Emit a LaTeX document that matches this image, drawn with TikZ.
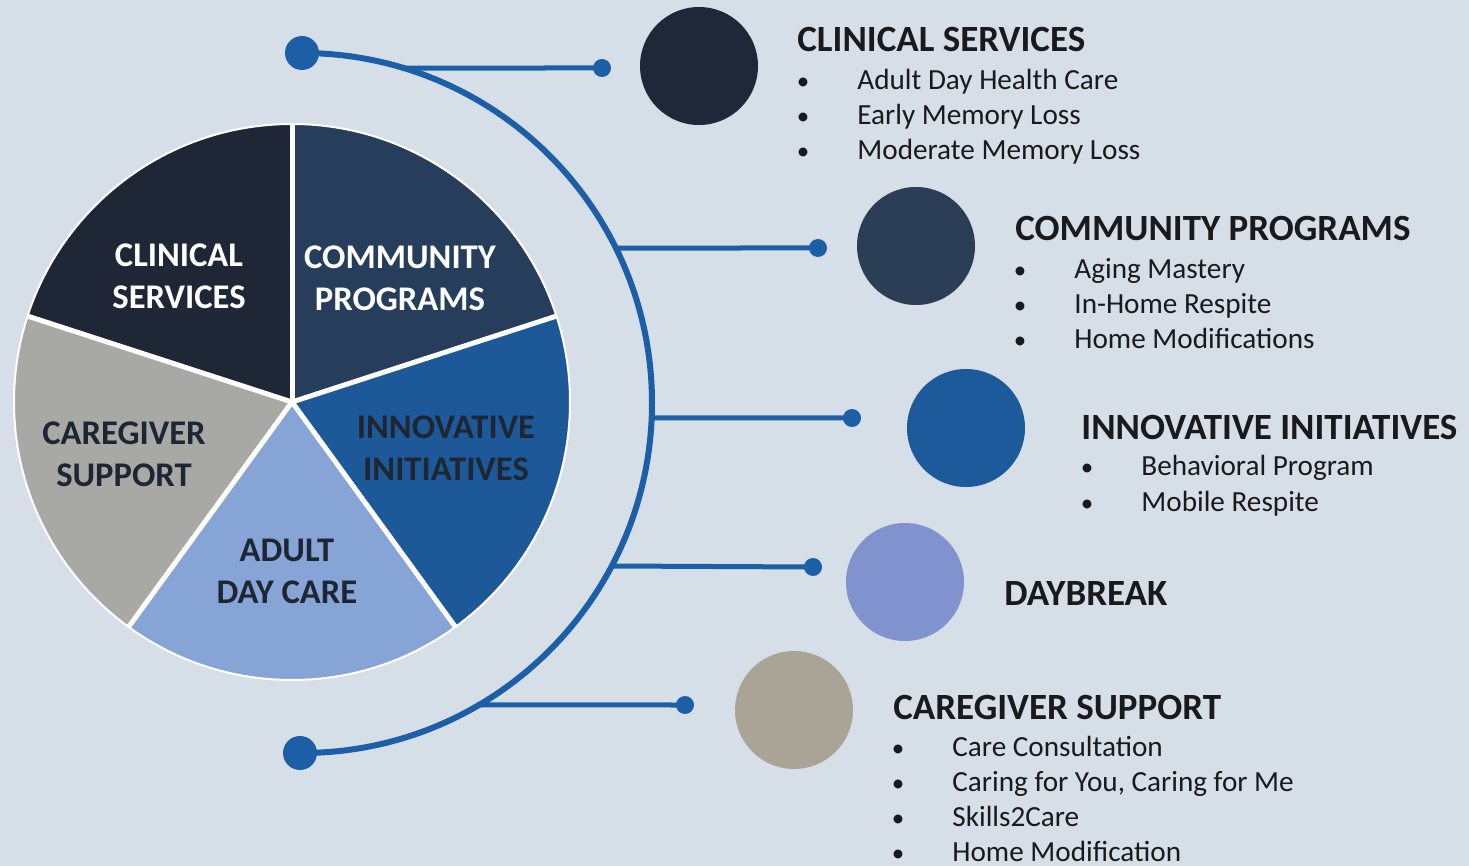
\documentclass[tikz,border=0pt]{standalone}
\usepackage{fontspec}
\setmainfont{Carlito}
\usetikzlibrary{calc}
\definecolor{bg}{RGB}{214,222,231}
\definecolor{navyA}{RGB}{31,38,54}
\definecolor{navyB}{RGB}{38,62,92}
\definecolor{blueC}{RGB}{29,89,153}
\definecolor{lblue}{RGB}{134,164,214}
\definecolor{grayE}{RGB}{168,168,165}
\definecolor{circA}{RGB}{31,40,56}
\definecolor{circB}{RGB}{44,62,86}
\definecolor{circC}{RGB}{29,90,156}
\definecolor{lav}{RGB}{128,147,206}
\definecolor{warm}{RGB}{170,164,150}
\definecolor{arcblue}{RGB}{28,95,166}
\definecolor{ink}{RGB}{26,26,28}
\definecolor{pieink}{RGB}{30,38,52}
\begin{document}
\begin{tikzpicture}[x=0.5pt,y=0.5pt,
  piesep/.style={white,line width=2.5pt},
  pielabel/.style={font=\fontsize{17.3pt}{21pt}\selectfont\bfseries,align=center,inner sep=0pt},
  bigdot/.style={circle,fill=arcblue,inner sep=0pt,minimum size=17pt},
  smalldot/.style={circle,fill=arcblue,inner sep=0pt,minimum size=9pt},
  arcline/.style={arcblue,line width=3pt},
  conn/.style={arcblue,line width=2.5pt},
  bigcirc/.style={circle,inner sep=0pt,minimum size=59pt},
  heading/.style={anchor=base west,inner sep=0pt,text=ink,font=\fontsize{18.5pt}{20pt}\selectfont\bfseries},
  bulletmark/.style={anchor=base,inner sep=0pt,text=ink,font=\fontsize{12.5pt}{15pt}\selectfont},
  itemtext/.style={anchor=base west,inner sep=0pt,text=ink,font=\fontsize{14.6pt}{17pt}\selectfont}
]
\fill[bg] (0,0) rectangle (1469,-866);
\useasboundingbox (0,0) rectangle (1469,-866);

% ---- pie ----
\coordinate (pc) at (292,-402);
\fill[navyA] (pc) -- ++(90:278) arc[start angle=90,end angle=162,radius=278] -- cycle;
\fill[navyB] (pc) -- ++(18:278) arc[start angle=18,end angle=90,radius=278] -- cycle;
\fill[blueC] (pc) -- ++(-54:278) arc[start angle=-54,end angle=18,radius=278] -- cycle;
\fill[lblue] (pc) -- ++(234:278) arc[start angle=234,end angle=306,radius=278] -- cycle;
\fill[grayE] (pc) -- ++(162:278) arc[start angle=162,end angle=234,radius=278] -- cycle;
\foreach \a in {90,162,234,306,18} \draw[piesep] (pc) -- ++(\a:278);
\draw[white,line width=1pt] (pc) circle[radius=278];

\node[pielabel,text=white] (lcs) at (179,-276) {CLINICAL\\SERVICES};
\node[pielabel,text=white] (lcp) at (400,-278) {COMMUNITY\\PROGRAMS};
\node[pielabel,text=pieink] (lii) at (446,-448) {INNOVATIVE\\INITIATIVES};
\node[pielabel,text=pieink] (lcg) at (124,-454) {CAREGIVER\\SUPPORT};
\node[pielabel,text=pieink] (lad) at (287,-571) {ADULT\\DAY CARE};

% ---- arc with connectors ----
\coordinate (ac) at (300,-403);
\node[bigdot] (tdot) at (302,-53) {};
\node[bigdot] (bdot) at (300,-753) {};
\draw[arcline] (tdot.center) arc[start angle=90,end angle=-90,radius=350];

\path (ac) ++ ({asin(335/350)}:350) coordinate (j1);
\path (ac) ++ ({asin(155/350)}:350) coordinate (j2);
\path (ac) ++ ({asin(-15/350)}:350) coordinate (j3);
\path (ac) ++ ({asin(-163/350)}:350) coordinate (j4);
\path (ac) ++ ({asin(-302/350)}:350) coordinate (j5);

\node[smalldot] (d1) at (602,-68) {};
\node[smalldot] (d2) at (818,-248) {};
\node[smalldot] (d3) at (852,-418) {};
\node[smalldot] (d4) at (813,-567) {};
\node[smalldot] (d5) at (685,-705) {};
\foreach \i in {1,...,5} \draw[conn] (j\i) -- (d\i.center);

% ---- big circles ----
\node[bigcirc,fill=circA] (c1) at (699,-66) {};
\node[bigcirc,fill=circB] (c2) at (916,-246) {};
\node[bigcirc,fill=circC] (c3) at (966,-428) {};
\node[bigcirc,fill=lav] (c4) at (905,-582) {};
\node[bigcirc,fill=warm] (c5) at (794,-710) {};

% ---- text lists ----
\node[heading] (h1) at (797,-52) {CLINICAL SERVICES};
\foreach \t [count=\i] in {Adult Day Health Care, Early Memory Loss, Moderate Memory Loss} {
  \node[bulletmark] (b1-\i) at (803,{-90-35*(\i-1)}) {•};
  \node[itemtext] (t1-\i) at (857,{-90-35*(\i-1)}) {\t};
}
\node[heading] (h2) at (1015,-241) {COMMUNITY PROGRAMS};
\foreach \t [count=\i] in {Aging Mastery, In-Home Respite, Home Modifications} {
  \node[bulletmark] (b2-\i) at (1020,{-279-35*(\i-1)}) {•};
  \node[itemtext] (t2-\i) at (1074,{-279-35*(\i-1)}) {\t};
}
\node[heading] (h3) at (1081,-440) {INNOVATIVE INITIATIVES};
\foreach \t [count=\i] in {Behavioral Program, Mobile Respite} {
  \node[bulletmark] (b3-\i) at (1087,{-476-35*(\i-1)}) {•};
  \node[itemtext] (t3-\i) at (1141,{-476-35*(\i-1)}) {\t};
}
\node[heading] (h4) at (1004,-605) {DAYBREAK};
\node[heading] (h5) at (893,-719) {CAREGIVER SUPPORT};
\foreach \t [count=\i] in {Care Consultation, {Caring for You, Caring for Me}, Skills2Care, Home Modification} {
  \node[bulletmark] (b5-\i) at (898,{-756-35*(\i-1)}) {•};
  \node[itemtext] (t5-\i) at (952,{-756-35*(\i-1)}) {\t};
}
\end{tikzpicture}
\end{document}
